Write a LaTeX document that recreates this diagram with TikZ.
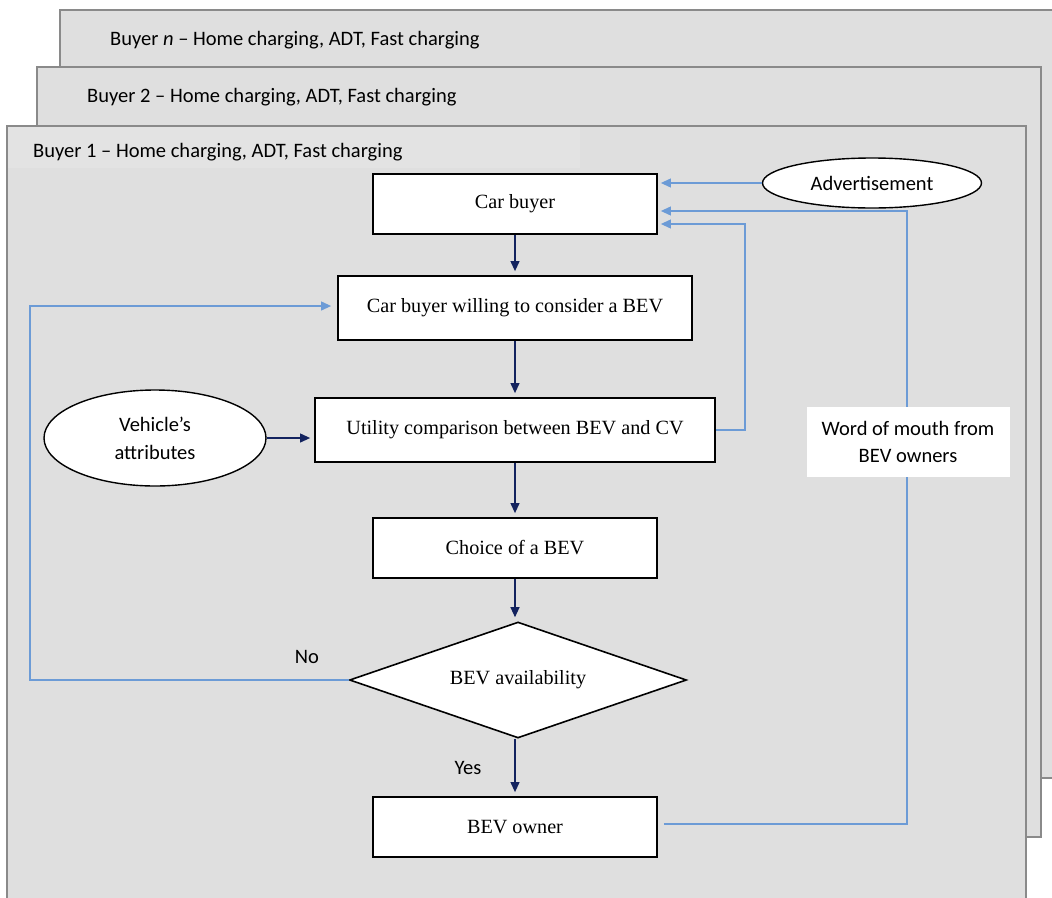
\documentclass[tikz,border=0pt]{standalone}
\usepackage{fontspec}
\setmainfont{Liberation Serif}
\newfontfamily\sansfnt{Carlito}
\usetikzlibrary{arrows.meta,shapes.geometric}
\definecolor{panelfill}{HTML}{DFDFDF}
\definecolor{headfill}{HTML}{E3E3E3}
\definecolor{panelline}{HTML}{8A8A8A}
\definecolor{navy}{HTML}{13235F}
\definecolor{lblue}{HTML}{6C9BD6}
\begin{document}
\begin{tikzpicture}[x=1pt,y=-1pt,
  panel/.style={fill=panelfill,draw=panelline,line width=1.6pt},
  head/.style={anchor=west,font=\sansfnt\fontsize{20.5}{24}\selectfont,inner sep=0pt},
  box/.style={draw=black,fill=white,line width=1.8pt,font=\fontsize{20.2}{24}\selectfont,minimum height=60pt,inner sep=2pt},
  oval/.style={ellipse,draw=black,fill=white,line width=1.4pt,font=\sansfnt\fontsize{20.5}{28}\selectfont,align=center,inner sep=0pt},
  lbl/.style={font=\sansfnt\fontsize{20.5}{24}\selectfont,inner sep=0pt},
  navyarrow/.style={draw=navy,line width=1.1pt,-{Triangle[length=10pt,width=9pt]},shorten >=4pt},
  bluearrow/.style={draw=lblue,line width=1.1pt,-{Triangle[length=10pt,width=9pt]},shorten >=3pt}]
\useasboundingbox (0,0) rectangle (1052,897);
\clip (0,0) rectangle (1052,897);
% stacked panels
\path[panel] (60,10) rectangle (1080,778);
\node[head] (hn) at (110,40) {Buyer \textit{n} – Home charging, ADT, Fast charging};
\path[panel] (37,67) rectangle (1041,837);
\node[head] (h2) at (87,97) {Buyer 2 – Home charging, ADT, Fast charging};
\path[panel] (7,126) rectangle (1026,920);
\fill[headfill] (8,127) rectangle (580,168);
\node[head] (h1) at (33,152) {Buyer 1 – Home charging, ADT, Fast charging};
% main boxes
\node[box,minimum width=284pt] (cb) at (515,204) {Car buyer};
\node[box,minimum width=354pt,minimum height=64pt] (wl) at (515,308) {Car buyer willing to consider a BEV};
\node[box,minimum width=400pt,minimum height=64pt] (ut) at (515,430) {Utility comparison between BEV and CV};
\node[box,minimum width=284pt] (ch) at (515,548) {Choice of a BEV};
\node[diamond,draw=black,fill=white,line width=1.6pt,font=\fontsize{20.2}{24}\selectfont,aspect=2.9,minimum width=337pt,minimum height=116pt,inner sep=0pt] (av) at (518,680) {BEV availability};
\node[box,minimum width=284pt] (ow) at (515,827) {BEV owner};
% ellipses
\node[oval,minimum width=219pt,minimum height=50pt] (ad) at (872,183) {Advertisement};
\node[oval,minimum width=222pt,minimum height=96pt] (va) at (155,438) {Vehicle’s\\attributes};
% navy flow arrows
\draw[navyarrow] (cb.south) -- (wl.north);
\draw[navyarrow] (wl.south) -- (ut.north);
\draw[navyarrow] (ut.south) -- (ch.north);
\draw[navyarrow] (ch.south) -- (ch.south |- av.north);
\draw[navyarrow] (ow.north |- av.south) -- (ow.north);
\draw[navyarrow] (va.east) -- (va.east -| ut.west);
% blue feedback arrows
\draw[bluearrow] (ad.west) -- (ad.west -| cb.east);
\coordinate (ufb) at (745,224);
\draw[bluearrow] (ut.east) -| (ufb) -- (ufb -| cb.east);
\coordinate (wfb) at (907,211);
\draw[bluearrow] ([xshift=6pt,yshift=3pt]ow.east) -| (wfb) -- (wfb -| cb.east);
\coordinate (nfb) at (30,306);
\draw[bluearrow,shorten >=6pt] (av.west) -| (nfb) -- (nfb -| wl.west);
% word of mouth label
\node[fill=white,minimum width=203pt,minimum height=70pt,align=center,font=\sansfnt\fontsize{20.5}{27}\selectfont] (wm) at (908,442) {Word of mouth from\\BEV owners};
% yes / no
\node[lbl] (no) at (307,657) {No};
\node[lbl] (yes) at (468,768) {Yes};
\end{tikzpicture}
\end{document}
